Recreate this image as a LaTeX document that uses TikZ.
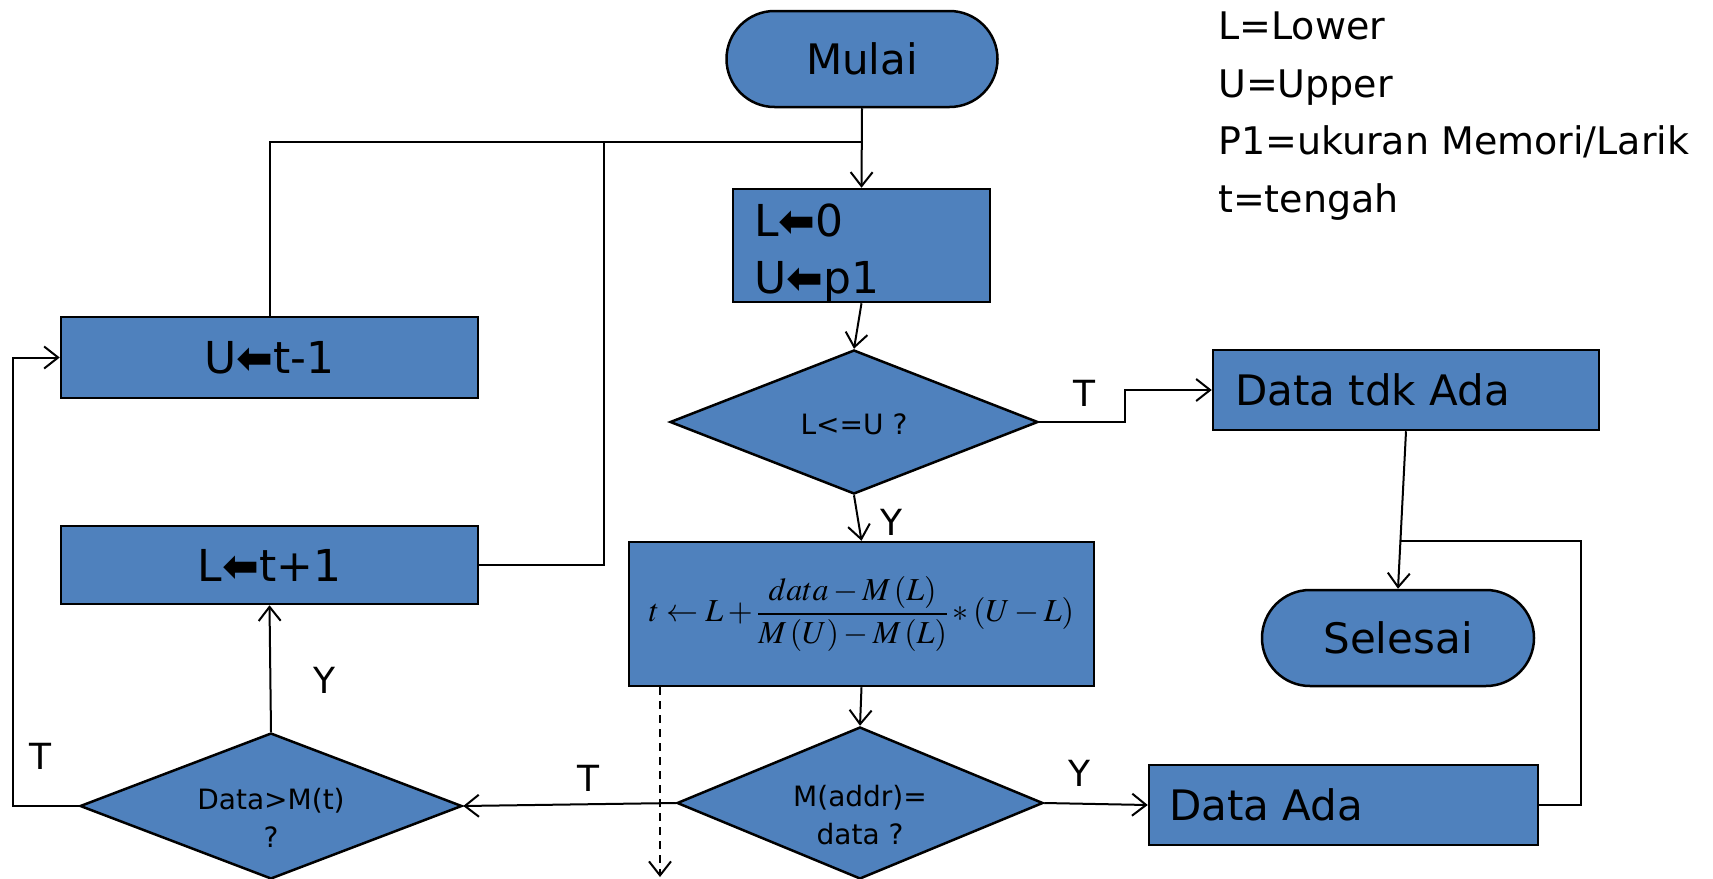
\documentclass[tikz,border=0pt]{standalone}
\usepackage{mathptmx}
\usepackage{fontspec}
\setmainfont{DejaVu Sans}
\usetikzlibrary{shapes.geometric,arrows.meta}
\definecolor{boxblue}{RGB}{79,129,189}
\newcommand{\barr}{{\bfseries ⬅}}
\tikzset{
  blk/.style={draw=black, line width=2.5pt, fill=boxblue, inner sep=0pt},
  procbox/.style={blk, rectangle, anchor=center},
  termbox/.style={blk, rectangle, rounded corners=48pt, anchor=center},
  decbox/.style={blk, diamond, aspect=2.5},
  dectxt/.style={inner sep=0pt, align=center, font=\fontsize{28}{38}\selectfont},
  conn/.style={line width=2pt, draw=black},
  arr/.style={conn, -{Straight Barb[length=14pt,width=22pt,line width=2pt]}},
  lbl/.style={inner sep=0pt, font=\fontsize{36}{40}\selectfont},
  bigtxt/.style={font=\fontsize{42}{52}\selectfont},
}
\begin{document}
\begin{tikzpicture}[x=1pt,y=-1pt]
\useasboundingbox (0,0) rectangle (1713,878);
% nodes
\node[termbox, minimum width=271pt, minimum height=96pt, bigtxt] (mulai) at (862,59) {Mulai};
\node[procbox, minimum width=257pt, minimum height=113pt] (init) at (861.5,245.5) {};
\node[anchor=base west, inner sep=0pt, font=\fontsize{44}{52}\selectfont] (initA) at (754,236) {L\barr0};
\node[anchor=base west, inner sep=0pt, font=\fontsize{44}{52}\selectfont] (initB) at (754,293) {U\barr p1};
\node[decbox, minimum width=368pt, minimum height=144pt] (d1) at (854,422) {};
\node[dectxt] (d1T) at (854,424) {L<=U ?};
\node[procbox, minimum width=386pt, minimum height=80pt] (tdk) at (1406,390) {};
\node[anchor=west, inner sep=0pt, bigtxt] (tdkT) at (1235,390) {Data tdk Ada};
\node[procbox, minimum width=465pt, minimum height=144pt, font=\fontsize{32}{38}\selectfont] (calc) at (861.5,614)
  {$\displaystyle t \leftarrow L + \frac{data - M\,(L)}{M\,(U) - M\,(L)} * (U - L)$};
\node[decbox, minimum width=366pt, minimum height=152pt] (d2) at (860,803) {};
\node[dectxt] (d2T) at (860,815) {M(addr)=\\data ?};
\node[decbox, minimum width=382pt, minimum height=146pt] (d3) at (271,806) {};
\node[dectxt] (d3T) at (271,818) {Data>M(t)\\?};
\node[procbox, minimum width=417pt, minimum height=81pt, font=\fontsize{44}{52}\selectfont] (um) at (269.5,357.5) {U\barr t-1};
\node[procbox, minimum width=417pt, minimum height=78pt, font=\fontsize{44}{52}\selectfont] (lp) at (269.5,565) {L\barr t+1};
\node[termbox, minimum width=272pt, minimum height=96pt, bigtxt] (sel) at (1398,638) {Selesai};
\node[procbox, minimum width=389pt, minimum height=80pt] (ada) at (1343.5,805) {};
\node[anchor=west, inner sep=0pt, bigtxt] (adaT) at (1169,805) {Data Ada};
% legend
\node[anchor=base west, inner sep=0pt, font=\fontsize{38}{44}\selectfont] (lg1) at (1218,39) {L=Lower};
\node[anchor=base west, inner sep=0pt, font=\fontsize{38}{44}\selectfont] (lg2) at (1218,97) {U=Upper};
\node[anchor=base west, inner sep=0pt, font=\fontsize{38}{44}\selectfont] (lg3) at (1218,154) {P1=ukuran Memori/Larik};
\node[anchor=base west, inner sep=0pt, font=\fontsize{38}{44}\selectfont] (lg4) at (1218,212) {t=tengah};
% helper coordinates
\coordinate (j1) at (862,142);
\coordinate (j2) at (604,142);
\coordinate (bx) at (1125,0);
\coordinate (dx) at (660,0);
\coordinate (dend) at (660,877);
\coordinate (lx) at (13,0);
\coordinate (rx) at (1581,541);
\coordinate (jm) at (1400,541);
% connectors
\draw[arr] (mulai.south) -- (init.north);
\draw[conn] (um.north) |- (j1);
\draw[conn] (lp.east) -| (j2);
\draw[arr] (init.south) -- (d1.north);
\draw[arr] (d1.east) -- (d1.east -| bx) -- (tdk.west -| bx) -- (tdk.west);
\draw[arr] (d1.south) -- (calc.north);
\draw[arr] (calc.south) -- (d2.north);
\draw[conn, dashed, dash pattern=on 8pt off 6pt, -{Straight Barb[length=14pt,width=22pt,line width=2pt]}] (calc.south -| dx) -- (dend);
\draw[arr] (d2.west) -- (d3.east);
\draw[arr] (d2.east) -- (ada.west);
\draw[arr] (d3.north) -- (lp.south);
\draw[arr] (d3.west) -- (d3.west -| lx) -- (um.west -| lx) -- (um.west);
\draw[arr] (tdk.south) -- (sel.north);
\draw[conn] (ada.east) -| (rx) -- (jm);
% labels
\node[lbl] (lT1) at (1084,393) {T};
\node[lbl] (lY1) at (891,522) {Y};
\node[lbl] (lT2) at (588,778) {T};
\node[lbl] (lY2) at (1079,773) {Y};
\node[lbl] (lY3) at (324,680) {Y};
\node[lbl] (lT3) at (40,756) {T};
\end{tikzpicture}
\end{document}
